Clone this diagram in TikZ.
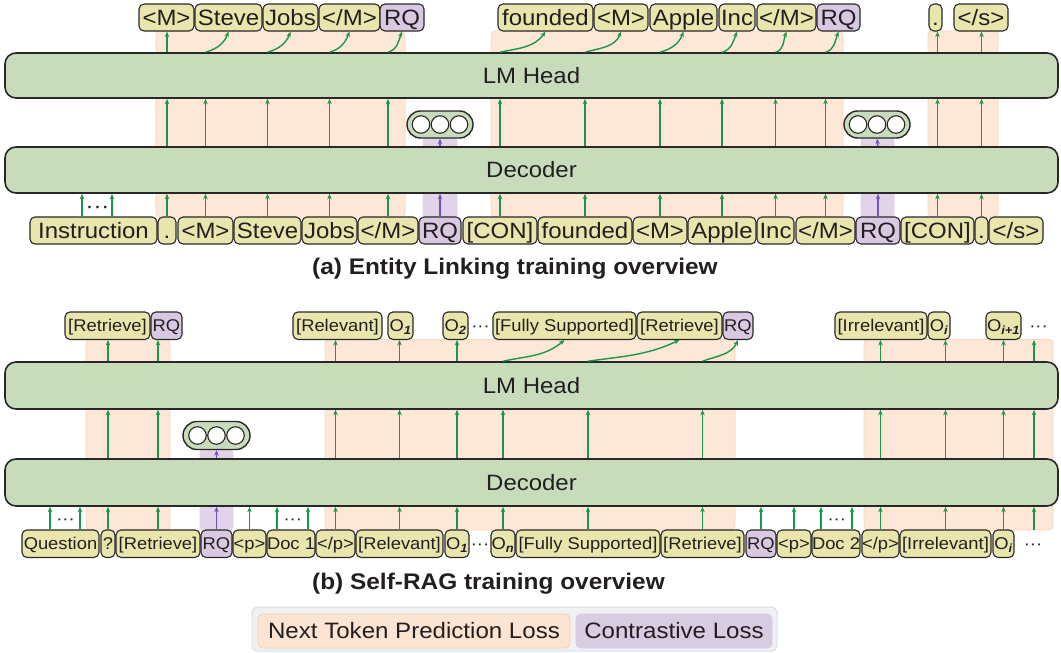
\documentclass[tikz,border=0pt]{standalone}
\usepackage{fontspec}
\setmainfont{Liberation Sans}[FakeStretch=1.08]
\usetikzlibrary{arrows.meta}
\definecolor{tokY}{RGB}{232,230,172}
\definecolor{tokP}{RGB}{216,200,226}
\definecolor{barG}{RGB}{200,220,188}
\definecolor{bandO}{RGB}{253,231,214}
\definecolor{bandOd}{RGB}{250,214,186}
\definecolor{bandP}{RGB}{225,212,233}
\definecolor{legOut}{RGB}{240,241,243}
\definecolor{legOutd}{RGB}{221,223,227}
\definecolor{legO}{RGB}{252,228,210}
\definecolor{legOd}{RGB}{247,206,172}
\definecolor{legP}{RGB}{216,204,226}
\definecolor{arrG}{RGB}{26,152,72}
\definecolor{arrP}{RGB}{118,80,190}
\definecolor{ink}{RGB}{35,31,32}
\definecolor{edgeC}{RGB}{40,40,40}
\newcommand{\tk}[6]{\node[#1,minimum width={(#4)-(#3)}] (#2) at ({((#3)+(#4))/2},{-(#5)}) {#6};}
\newcommand{\Osub}[1]{O\textsubscript{\bfseries\itshape #1}}
\tikzset{
  tokbase/.style={draw=edgeC, line width=1.1pt, rounded corners=5pt, inner xsep=0pt, inner ysep=0pt, text=ink},
  ta/.style={tokbase, fill=tokY, minimum height=27pt, font=\fontsize{22.2}{24}\selectfont, text height=15.9pt, text depth=0pt},
  tap/.style={ta, fill=tokP},
  tb/.style={tokbase, fill=tokY, minimum height=27.5pt, font=\fontsize{17}{20}\selectfont, text height=12.2pt, text depth=0pt},
  tbp/.style={tb, fill=tokP},
  bar/.style={draw=edgeC, line width=1.6pt, fill=barG, rounded corners=11pt, minimum width=1053pt, inner sep=0pt, text=ink, font=\fontsize{22.2}{24}\selectfont, text height=15.9pt, text depth=0pt},
  bandst/.style={fill=bandO, draw=bandOd, line width=0.8pt, rounded corners=4pt},
  bandpst/.style={fill=bandP, draw=bandP, line width=0.8pt, rounded corners=3pt},
  ring/.style={draw=edgeC, line width=1.4pt, fill=barG, minimum width=66pt, minimum height=27pt, rounded corners=13.5pt, inner sep=0pt},
  cir/.style={circle, draw=edgeC, line width=1.1pt, fill=white, minimum size=17.5pt, inner sep=0pt},
  arr/.style={draw=arrG, line width=1.4pt, -{Stealth[length=5.5pt,width=4.5pt]}},
  parr/.style={draw=arrP, line width=1.4pt, -{Stealth[length=5.5pt,width=4.5pt]}},
  dotsA/.style={font=\fontsize{22}{24}\selectfont, inner sep=0pt, anchor=base, text=ink},
  dotsB/.style={font=\fontsize{17}{20}\selectfont, inner sep=0pt, anchor=base, text=ink},
  legitem/.style={line width=0.9pt, rounded corners=5pt, minimum height=34pt, inner sep=0pt, text=ink, font=\fontsize{22.3}{24}\selectfont, text height=15.9pt, text depth=0pt},
  ttl/.style={anchor=base west, inner sep=0pt, text=ink, font=\fontsize{22.6}{26}\bfseries\selectfont}
}
\begin{document}
\begin{tikzpicture}[x=1pt,y=1pt]
\fill[white] (0,0) rectangle (1061,-653);
\useasboundingbox (0,0) rectangle (1061,-653);

% ---------------- (a) bands
\path[bandst] (156,-31) rectangle (405,-217);
\path[bandst] (491,-31) rectangle (843,-217);
\path[bandst] (928,-31) rectangle (998,-217);
\path[bandpst] (423,-138) rectangle (457,-217);
\path[bandpst] (861,-138) rectangle (894,-217);

% ---------------- (b) bands
\path[bandst] (86,-339.5) rectangle (170,-530);
\path[bandst] (325,-339.5) rectangle (735,-530);
\path[bandst] (864,-339.5) rectangle (1053,-530);
\path[bandpst] (200,-449.5) rectangle (233,-530);

% ---------------- bars
\node[bar, minimum height=45pt] (lma) at (531.5,-75.5) {LM Head};
\node[bar, minimum height=46pt] (deca) at (531.5,-170) {Decoder};
\node[bar, minimum height=47pt] (lmb) at (531.5,-385.5) {LM Head};
\node[bar, minimum height=47pt] (decb) at (531.5,-482.5) {Decoder};

% ---------------- rings
\node[ring] (ra1) at (440,-124.5) {};
\node[ring] (ra2) at (877,-124.5) {};
\node[ring, minimum width=67pt, minimum height=28pt, rounded corners=14pt] (rb) at (216.5,-435.5) {};
\foreach \r in {ra1,ra2,rb}{
  \foreach \dx/\k in {-19/1,0/2,19/3}
    \node[cir] (\r c\k) at ([xshift=\dx pt]\r.center) {};
}

% ---------------- (a) output tokens
\tk{ta}{oa1}{139}{194}{17.5}{<M>}
\tk{ta}{oa2}{195}{262}{17.5}{Steve}
\tk{ta}{oa3}{263}{318}{17.5}{Jobs}
\tk{ta}{oa4}{319}{380}{17.5}{</M>}
\tk{tap}{oa5}{380}{424}{17.5}{RQ}
\tk{ta}{oa6}{498}{593}{17.5}{founded}
\tk{ta}{oa7}{594}{648}{17.5}{<M>}
\tk{ta}{oa8}{650}{717}{17.5}{Apple}
\tk{ta}{oa9}{719}{755}{17.5}{Inc}
\tk{ta}{oa10}{757}{816}{17.5}{</M>}
\tk{tap}{oa11}{817}{860}{17.5}{RQ}
\tk{ta}{oa12}{929}{942}{17.5}{.}
\tk{ta}{oa13}{954}{1008}{17.5}{</s>}

% ---------------- (a) input tokens
\tk{ta}{ia1}{30}{157}{230.5}{Instruction}
\tk{ta}{ia2}{158}{176}{230.5}{.}
\tk{ta}{ia3}{178}{233}{230.5}{<M>}
\tk{ta}{ia4}{234}{301}{230.5}{Steve}
\tk{ta}{ia5}{302}{357}{230.5}{Jobs}
\tk{ta}{ia6}{358}{418}{230.5}{</M>}
\tk{tap}{ia7}{419}{461}{230.5}{RQ}
\tk{ta}{ia8}{463}{537}{230.5}{[CON]}
\tk{ta}{ia9}{538}{632}{230.5}{founded}
\tk{ta}{ia10}{633}{687}{230.5}{<M>}
\tk{ta}{ia11}{688}{756}{230.5}{Apple}
\tk{ta}{ia12}{757}{794}{230.5}{Inc}
\tk{ta}{ia13}{796}{855}{230.5}{</M>}
\tk{tap}{ia14}{856}{900}{230.5}{RQ}
\tk{ta}{ia15}{901}{974}{230.5}{[CON]}
\tk{ta}{ia16}{975}{988}{230.5}{.}
\tk{ta}{ia17}{989}{1043}{230.5}{</s>}
\node[dotsA] (dA) at (97.5,-213) {···};

% ---------------- (a) arrows
\draw[arr] ([xshift=-11.5pt]ia1.north) -- ([xshift=-11.5pt]ia1.north |- deca.south);
\draw[arr] ([xshift=18.5pt]ia1.north) -- ([xshift=18.5pt]ia1.north |- deca.south);
\foreach \i in {2,3,4,5,6,8,9,10,11,12,13,15,16}{
  \draw[arr] (ia\i.north) -- (ia\i.north |- deca.south);
  \draw[arr] (ia\i.north |- deca.north) -- (ia\i.north |- lma.south);
}
\draw[parr] (ia7.north) -- (ia7.north |- deca.south);
\draw[parr] (ia7.north |- deca.north) -- (ra1.south);
\draw[parr] (ia14.north) -- (ia14.north |- deca.south);
\draw[parr] (ia14.north |- deca.north) -- (ra2.south);
\draw[arr] (ia2.north |- lma.north) -- (ia2.north |- oa1.south);
\foreach \i/\o in {3/2,4/3,5/4,6/5,9/7,10/8,11/9,12/10,13/11}{
  \draw[arr] (ia\i.north |- lma.north) to[out=15,in=-110] (oa\o.south);
}
\draw[arr] (ia8.north |- lma.north) to[out=12,in=-125] (oa6.south);
\draw[arr] (ia15.north |- lma.north) -- (ia15.north |- oa12.south);
\draw[arr] (ia16.north |- lma.north) -- (ia16.north |- oa13.south);

\node[ttl] (tA) at (312,-274.5) {(a) Entity Linking training overview};

% ---------------- (b) output tokens
\tk{tb}{ob1}{65}{150}{325.7}{[Retrieve]}
\tk{tbp}{ob2}{151}{182}{325.7}{RQ}
\tk{tb}{ob3}{293}{382}{325.7}{[Relevant]}
\tk{tb}{ob4}{388}{413}{325.7}{\Osub{1}}
\tk{tb}{ob5}{443}{468}{325.7}{\Osub{2}}
\tk{tb}{ob6}{493}{636}{325.7}{[Fully Supported]}
\tk{tb}{ob7}{637}{722}{325.7}{[Retrieve]}
\tk{tbp}{ob8}{723}{753}{325.7}{RQ}
\tk{tb}{ob9}{835}{927}{325.7}{[Irrelevant]}
\tk{tb}{ob10}{928}{950}{325.7}{\Osub{i}}
\tk{tb}{ob11}{986}{1021}{325.7}{\Osub{i+1}}
\node[dotsB] (dOut1) at (480.5,-331.8) {···};
\node[dotsB] (dOut2) at (1038.5,-331.8) {···};

% ---------------- (b) input tokens
\tk{tb}{ib1}{22}{99}{543.7}{Question}
\tk{tb}{ib2}{101}{115}{543.7}{?}
\tk{tb}{ib3}{116}{200}{543.7}{[Retrieve]}
\tk{tbp}{ib4}{201}{232}{543.7}{RQ}
\tk{tb}{ib5}{233}{266}{543.7}{<p>}
\tk{tb}{ib6}{267}{315}{543.7}{Doc 1}
\tk{tb}{ib7}{316}{355}{543.7}{</p>}
\tk{tb}{ib8}{356}{443}{543.7}{[Relevant]}
\tk{tb}{ib9}{445}{469}{543.7}{\Osub{1}}
\tk{tb}{ib10}{491}{515}{543.7}{\Osub{n}}
\tk{tb}{ib11}{516}{660}{543.7}{[Fully Supported]}
\tk{tb}{ib12}{661}{744}{543.7}{[Retrieve]}
\tk{tbp}{ib13}{746}{776}{543.7}{RQ}
\tk{tb}{ib14}{777}{811}{543.7}{<p>}
\tk{tb}{ib15}{812}{860}{543.7}{Doc 2}
\tk{tb}{ib16}{862}{899}{543.7}{</p>}
\tk{tb}{ib17}{900}{991}{543.7}{[Irrelevant]}
\tk{tb}{ib18}{993}{1014}{543.7}{\Osub{i}}
\node[dotsB] (dIn1) at (480,-549.8) {···};
\node[dotsB] (dIn2) at (1033,-549.8) {···};
\node[dotsB] (dB1) at (65.5,-524.6) {···};
\node[dotsB] (dB2) at (292.7,-524.6) {···};
\node[dotsB] (dB3) at (836.7,-524.6) {···};
\coordinate (colB) at (1034,-530);

% ---------------- (b) arrows
\draw[arr] ([xshift=-10.5pt]ib1.north) -- ([xshift=-10.5pt]ib1.north |- decb.south);
\draw[arr] ([xshift=19.5pt]ib1.north) -- ([xshift=19.5pt]ib1.north |- decb.south);
\draw[arr] ([xshift=-14pt]ib6.north) -- ([xshift=-14pt]ib6.north |- decb.south);
\draw[arr] ([xshift=17pt]ib6.north) -- ([xshift=17pt]ib6.north |- decb.south);
\draw[arr] ([xshift=-15pt]ib15.north) -- ([xshift=-15pt]ib15.north |- decb.south);
\draw[arr] ([xshift=16pt]ib15.north) -- ([xshift=16pt]ib15.north |- decb.south);
\foreach \i in {2,3,5,7,8,9,10,11,12,13,14,16,17,18}{
  \draw[arr] (ib\i.north) -- (ib\i.north |- decb.south);
}
\draw[arr] (colB) -- (colB |- decb.south);
\foreach \i in {2,3,7,8,9,10,11,12,16,17,18}{
  \draw[arr] (ib\i.north |- decb.north) -- (ib\i.north |- lmb.south);
}
\draw[arr] (colB |- decb.north) -- (colB |- lmb.south);
\draw[parr] (ib4.north) -- (ib4.north |- decb.south);
\draw[parr] (ib4.north |- decb.north) -- (rb.south);
% top
\draw[arr] (ib2.north |- lmb.north) -- (ib2.north |- ob1.south);
\draw[arr] (ib3.north |- lmb.north) -- (ib3.north |- ob2.south);
\draw[arr] (ib7.north |- lmb.north) -- (ib7.north |- ob3.south);
\draw[arr] (ib8.north |- lmb.north) -- (ib8.north |- ob4.south);
\draw[arr] (ib9.north |- lmb.north) -- (ib9.north |- ob5.south);
\draw[arr] (ib10.north |- lmb.north) to[out=12,in=-140] (ob6.south);
\draw[arr] (ib11.north |- lmb.north) to[out=8,in=-155] (ob7.south);
\draw[arr] (ib12.north |- lmb.north) to[out=20,in=-115] (ob8.south);
\draw[arr] (ib16.north |- lmb.north) -- (ib16.north |- ob9.south);
\draw[arr] (ib17.north |- lmb.north) -- (ib17.north |- ob10.south);
\draw[arr] (ib18.north |- lmb.north) -- (ib18.north |- ob11.south);
\draw[arr] (colB |- lmb.north) -- (colB |- ob11.south);

\node[ttl] (tB) at (312,-589.5) {(b) Self-RAG training overview};

% ---------------- legend
\node[draw=legOutd, fill=legOut, line width=1pt, rounded corners=5pt, minimum width=525pt, minimum height=44pt, inner sep=0pt] (leg) at (514.5,-629) {};
\node[legitem, fill=legO, draw=legOd, minimum width=312pt] (legA) at (414,-631) {Next Token Prediction Loss};
\node[legitem, fill=legP, draw=legP, minimum width=196pt] (legB) at (674,-631) {Contrastive Loss};
\end{tikzpicture}
\end{document}
